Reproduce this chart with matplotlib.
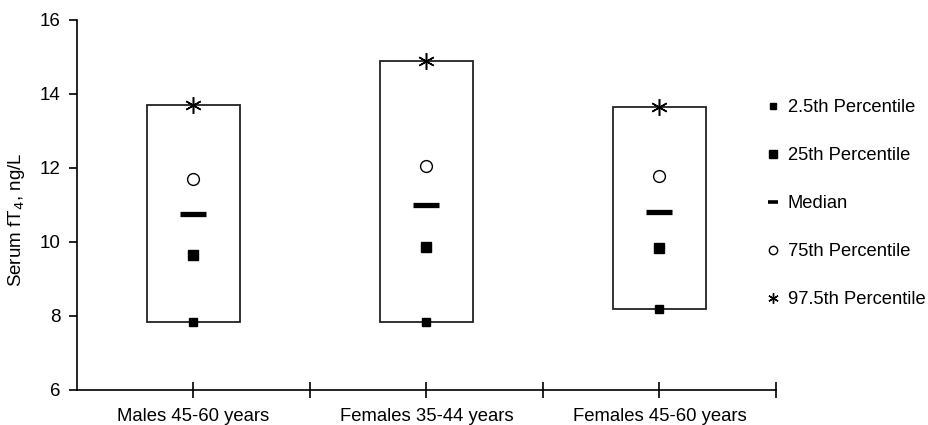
import matplotlib
matplotlib.use("Agg")
import matplotlib.pyplot as plt
from matplotlib.lines import Line2D
from matplotlib.patches import Rectangle

plt.rcParams['font.family'] = ['Liberation Sans', 'DejaVu Sans']

categories = ["Males 45-60 years", "Females 35-44 years", "Females 45-60 years"]
p2_5 = [7.85, 7.85, 8.19]
p25 = [9.66, 9.86, 9.85]
median = [10.75, 11.0, 10.80]
p75 = [11.69, 12.05, 11.79]
p97_5 = [13.70, 14.90, 13.64]
series_labels = ["2.5th Percentile", "25th Percentile", "Median", "75th Percentile", "97.5th Percentile"]

fig = plt.figure(figsize=(9.29, 4.25), dpi=100)
ax = fig.add_axes([77/929, 1-390/425, (776-77)/929, (390-20)/425])

xs = [i + 0.5 for i in range(len(categories))]
box_w = 0.40
for x, lo, hi in zip(xs, p2_5, p97_5):
    ax.add_patch(Rectangle((x - box_w/2, lo), box_w, hi - lo, fill=False,
                           edgecolor='#222222', linewidth=1.3, zorder=2))

ax.plot(xs, p2_5, linestyle='none', marker='s', ms=5.2, color='black', zorder=3)
ax.plot(xs, p25, linestyle='none', marker='s', ms=7.6, color='black', zorder=3)
ax.plot(xs, median, linestyle='none', marker='_', ms=19, mew=3.8, color='black', zorder=3)
ax.plot(xs, p75, linestyle='none', marker='o', ms=8.5, mfc='white', mec='black', mew=1.0, zorder=3)
ax.plot(xs, p97_5, linestyle='none', marker=(6, 2, 0), ms=12, mew=1.1, color='black', zorder=3)

ax.set_xlim(0, len(categories))
ax.set_ylim(6, 16)
ax.set_yticks([6, 8, 10, 12, 14, 16])
ax.set_xticks(xs)
ax.set_xticks([1, 2, 3], minor=True)
ax.set_xticklabels(categories, fontsize=13.3)
ax.tick_params(axis='y', direction='out', length=6, width=1.2, labelsize=13.5, pad=6)
ax.tick_params(axis='x', which='both', direction='inout', length=11, width=1.2, pad=7.5)
for s in ['top', 'right']:
    ax.spines[s].set_visible(False)
for s in ['left', 'bottom']:
    ax.spines[s].set_linewidth(1.2)
ax.set_ylabel("Serum fT$_4$, ng/L", fontsize=13.5)
ax.yaxis.set_label_coords(-0.0715, 0.46)

handles = [
    Line2D([], [], linestyle='none', marker='s', ms=4.5, color='black'),
    Line2D([], [], linestyle='none', marker='s', ms=6, color='black'),
    Line2D([], [], linestyle='none', marker='_', ms=7, mew=2.6, color='black'),
    Line2D([], [], linestyle='none', marker='o', ms=6, mfc='white', mec='black', mew=1.0),
    Line2D([], [], linestyle='none', marker=(6, 2, 0), ms=7.5, mew=1.0, color='black'),
]
fig.legend(handles, series_labels, loc='upper left', bbox_to_anchor=(765.6/929, 1-99/425),
           frameon=False, fontsize=13.2, labelspacing=1.69, handlelength=0.8,
           handletextpad=0.4, borderpad=0, borderaxespad=0)

fig.savefig("out.png", dpi=100)
